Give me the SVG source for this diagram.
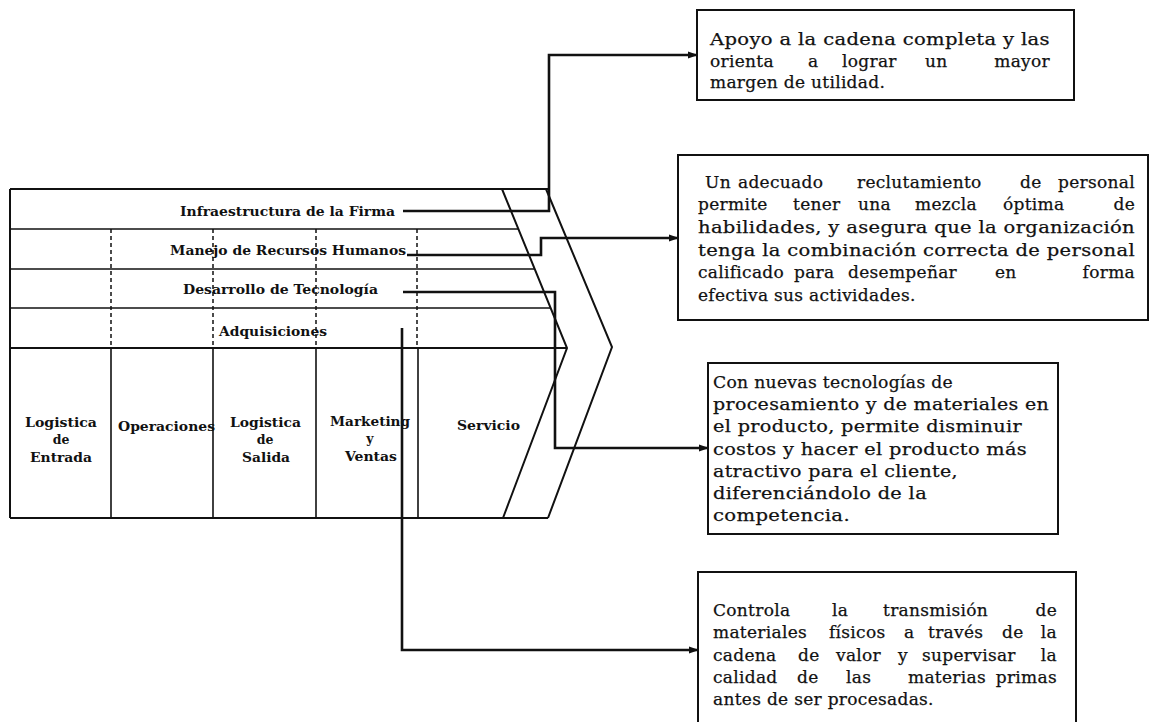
<svg xmlns="http://www.w3.org/2000/svg" width="1153" height="722" viewBox="0 0 1153 722">
<style>
.bg{fill:#ffffff}
.ln{stroke:#111;stroke-width:2;fill:none}
.thin{stroke:#111;stroke-width:1.6;fill:none}
.dash{stroke:#111;stroke-width:1.5;stroke-dasharray:4 3;fill:none}
.con{stroke:#111;stroke-width:2.6;fill:none}
.box{stroke:#111;stroke-width:2;fill:#fff}
.lbl{font-family:"DejaVu Serif","Liberation Serif",serif;font-weight:bold;font-size:12.5px;fill:#111}
.bt{font-family:"DejaVu Serif","Liberation Serif",serif;font-size:17px;letter-spacing:0.3px;fill:#111;stroke:#111;stroke-width:0.25}
</style>
<defs>
<marker id="ah" markerWidth="10" markerHeight="8" refX="9" refY="4" orient="auto" markerUnits="userSpaceOnUse">
<path d="M0,0.5 L10,4 L0,7.5 z" fill="#111"/>
</marker>
</defs>
<rect class="bg" x="0" y="0" width="1153" height="722"/>

<g id="value-chain">
<line class="ln" x1="10" y1="189" x2="548" y2="189"/>
<line class="ln" x1="10" y1="189" x2="10" y2="518"/>
<line class="ln" x1="10" y1="518" x2="548" y2="518"/>
<line class="thin" x1="10" y1="229" x2="518" y2="229"/>
<line class="thin" x1="10" y1="269" x2="535" y2="269"/>
<line class="thin" x1="10" y1="308" x2="551" y2="308"/>
<line class="ln" x1="10" y1="348" x2="567" y2="348"/>
<polyline class="ln" points="502,189 567,348 503,518"/>
<polyline class="ln" points="546,189 612,347 548,518"/>
<line class="dash" x1="111" y1="229" x2="111" y2="348"/>
<line class="dash" x1="213" y1="229" x2="213" y2="348"/>
<line class="dash" x1="316" y1="229" x2="316" y2="348"/>
<line class="dash" x1="417" y1="229" x2="417" y2="348"/>
<line class="thin" x1="111" y1="348" x2="111" y2="518"/>
<line class="thin" x1="213" y1="348" x2="213" y2="518"/>
<line class="thin" x1="316" y1="348" x2="316" y2="518"/>
<line class="thin" x1="418" y1="348" x2="418" y2="518"/>
</g>

<g id="infraestructura"><text class="lbl" x="180" y="216" textLength="215" lengthAdjust="spacingAndGlyphs">Infraestructura de la Firma</text></g>
<g id="rrhh"><text class="lbl" x="170" y="255" textLength="236" lengthAdjust="spacingAndGlyphs">Manejo de Recursos Humanos</text></g>
<g id="tecnologia"><text class="lbl" x="183" y="294" textLength="195" lengthAdjust="spacingAndGlyphs">Desarrollo de Tecnología</text></g>
<g id="adquisiciones"><text class="lbl" x="219" y="336" textLength="108" lengthAdjust="spacingAndGlyphs">Adquisiciones</text></g>

<g id="logistica-entrada">
<text class="lbl" x="25" y="427" textLength="72" lengthAdjust="spacingAndGlyphs">Logistica</text>
<text class="lbl" x="61" y="444" text-anchor="middle">de</text>
<text class="lbl" x="30" y="462" textLength="62" lengthAdjust="spacingAndGlyphs">Entrada</text>
</g>
<g id="operaciones"><text class="lbl" x="118" y="431" textLength="97" lengthAdjust="spacingAndGlyphs">Operaciones</text></g>
<g id="logistica-salida">
<text class="lbl" x="230" y="427" textLength="71" lengthAdjust="spacingAndGlyphs">Logistica</text>
<text class="lbl" x="265" y="444" text-anchor="middle">de</text>
<text class="lbl" x="242" y="462" textLength="48" lengthAdjust="spacingAndGlyphs">Salida</text>
</g>
<g id="marketing">
<text class="lbl" x="330" y="426" textLength="80" lengthAdjust="spacingAndGlyphs">Marketing</text>
<text class="lbl" x="370" y="443" text-anchor="middle">y</text>
<text class="lbl" x="345" y="461" textLength="52" lengthAdjust="spacingAndGlyphs">Ventas</text>
</g>
<g id="servicio"><text class="lbl" x="457" y="430" textLength="63" lengthAdjust="spacingAndGlyphs">Servicio</text></g>

<g id="connectors">
<polyline class="con" points="403,211 549,211 549,55 697,55" marker-end="url(#ah)"/>
<polyline class="con" points="407,255 541,255 541,238 678,238" marker-end="url(#ah)"/>
<polyline class="con" points="403,292 555,292 555,448 708,448" marker-end="url(#ah)"/>
<polyline class="con" points="402,328 402,650 698,650" marker-end="url(#ah)"/>
</g>

<g id="box-infraestructura">
<rect class="box" x="697" y="10" width="377" height="90"/>
<text class="bt" x="710" y="45" textLength="340" lengthAdjust="spacingAndGlyphs">Apoyo a la cadena completa y las</text>
<text class="bt" y="67"><tspan x="710">orienta</tspan><tspan x="808">a</tspan><tspan x="842">lograr</tspan><tspan x="925">un</tspan></text>
<text class="bt" x="1050" y="67" text-anchor="end">mayor</text>
<text class="bt" x="710" y="88">margen de utilidad.</text>
</g>

<g id="box-rrhh">
<rect class="box" x="678" y="155" width="470" height="165"/>
<text class="bt" y="188"><tspan x="705">Un</tspan><tspan x="738">adecuado</tspan><tspan x="857">reclutamiento</tspan><tspan x="1020">de</tspan></text>
<text class="bt" x="1135" y="188" text-anchor="end">personal</text>
<text class="bt" y="210"><tspan x="698">permite</tspan><tspan x="793">tener</tspan><tspan x="858">una</tspan><tspan x="915">mezcla</tspan><tspan x="1003">óptima</tspan></text>
<text class="bt" x="1135" y="210" text-anchor="end">de</text>
<text class="bt" x="698" y="233" textLength="437" lengthAdjust="spacingAndGlyphs">habilidades, y asegura que la organización</text>
<text class="bt" x="698" y="256" textLength="437" lengthAdjust="spacingAndGlyphs">tenga la combinación correcta de personal</text>
<text class="bt" y="278"><tspan x="698">calificado</tspan><tspan x="794">para</tspan><tspan x="848">desempeñar</tspan><tspan x="995">en</tspan></text>
<text class="bt" x="1135" y="278" text-anchor="end">forma</text>
<text class="bt" x="698" y="301">efectiva sus actividades.</text>
</g>

<g id="box-tecnologia">
<rect class="box" x="708" y="363" width="350" height="171"/>
<text class="bt" x="713" y="388" textLength="240" lengthAdjust="spacingAndGlyphs">Con nuevas tecnologías de</text>
<text class="bt" x="713" y="410" textLength="336" lengthAdjust="spacingAndGlyphs">procesamiento y de materiales en</text>
<text class="bt" x="713" y="432" textLength="309" lengthAdjust="spacingAndGlyphs">el producto, permite disminuir</text>
<text class="bt" x="713" y="455" textLength="314" lengthAdjust="spacingAndGlyphs">costos y hacer el producto más</text>
<text class="bt" x="713" y="477" textLength="245" lengthAdjust="spacingAndGlyphs">atractivo para el cliente,</text>
<text class="bt" x="713" y="499" textLength="214" lengthAdjust="spacingAndGlyphs">diferenciándolo de la</text>
<text class="bt" x="713" y="521" textLength="137" lengthAdjust="spacingAndGlyphs">competencia.</text>
</g>

<g id="box-adquisiciones">
<rect class="box" x="698" y="572" width="378" height="160"/>
<text class="bt" y="616"><tspan x="713">Controla</tspan><tspan x="832">la</tspan><tspan x="883">transmisión</tspan></text>
<text class="bt" x="1057" y="616" text-anchor="end">de</text>
<text class="bt" y="638"><tspan x="713">materiales</tspan><tspan x="829">físicos</tspan><tspan x="904">a</tspan><tspan x="928">través</tspan><tspan x="1002">de</tspan></text>
<text class="bt" x="1057" y="638" text-anchor="end">la</text>
<text class="bt" y="661"><tspan x="713">cadena</tspan><tspan x="798">de</tspan><tspan x="836">valor</tspan><tspan x="898">y</tspan><tspan x="922">supervisar</tspan></text>
<text class="bt" x="1057" y="661" text-anchor="end">la</text>
<text class="bt" y="683"><tspan x="713">calidad</tspan><tspan x="797">de</tspan><tspan x="846">las</tspan><tspan x="908">materias</tspan></text>
<text class="bt" x="1057" y="683" text-anchor="end">primas</text>
<text class="bt" x="713" y="705">antes de ser procesadas.</text>
</g>
</svg>
